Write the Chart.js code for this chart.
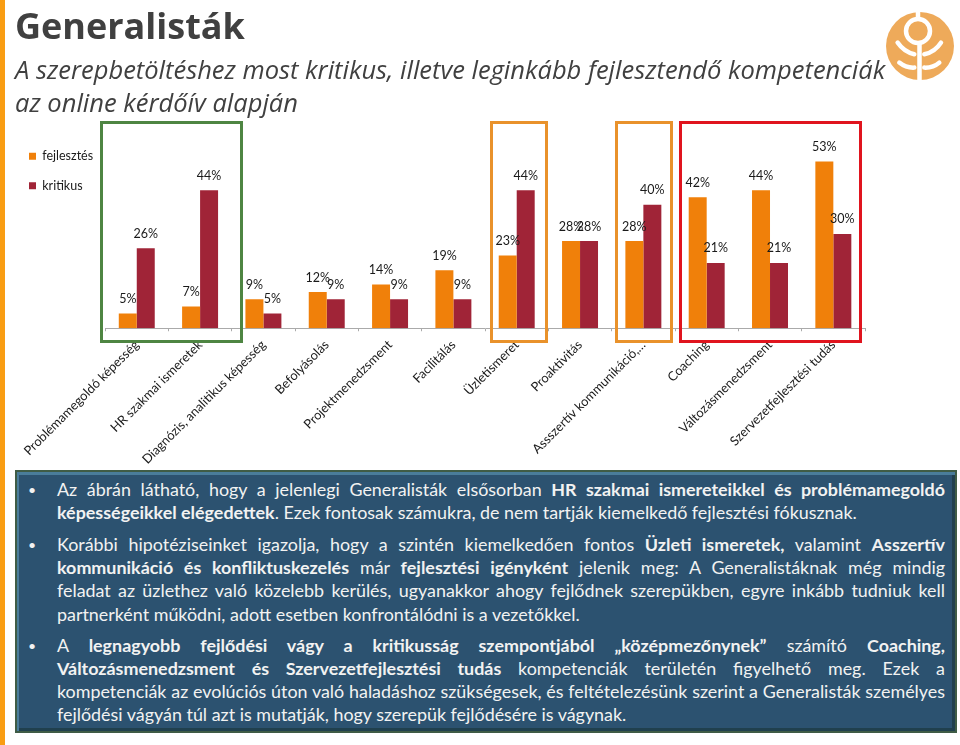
<!DOCTYPE html>
<html lang="hu">
<head>
<meta charset="utf-8">
<title>Generalisták</title>
<script src="https://cdn.jsdelivr.net/npm/chart.js@4/dist/chart.umd.js"></script>
<style>
  html, body { margin: 0; padding: 0; background: #fff; }
  #page { position: relative; width: 960px; height: 745px; overflow: hidden; }
  #page > * { position: absolute; }
  #band { left: 0; top: 0; width: 5px; height: 745px; background: #f99d13; }
  #chart { left: 0; top: 0; }
  h1 { left: 15px; top: 1px; margin: 0; font: 700 36px/50px "Open Sans", sans-serif; color: #404040; }
  h2 { left: 15px; top: 53px; margin: 0; font: italic 400 25.5px/33px "Open Sans", sans-serif; color: #404040; white-space: nowrap; }
  .box { box-sizing: border-box; border-style: solid; border-width: 3px; }
  #logo { left: 886px; top: 12px; }
  #panel {
    left: 15px; top: 470px; width: 942px; height: 263px; box-sizing: border-box;
    background: #2c5270;
    border: 2px solid #3f5c46;
    box-shadow: inset 2px 3px 0 #4a7d9b, inset -3px -3px 0 #20404e;
    color: #f2f2f2; font: 400 17.9px/23.2px Lato, sans-serif;
  }
  #panel p { position: absolute; left: 40px; width: 888px; margin: 0; }
  #panel p::before { content: "•"; position: absolute; left: -29px; font-size: 14px; }
  #panel span { display: block; text-align: justify; text-align-last: justify; white-space: nowrap; }
  #panel span.end { text-align-last: left; }
</style>
</head>
<body>
<div id="page">
  <canvas id="chart" width="960" height="745"></canvas>
  <div id="band"></div>
  <h1>Generalisták</h1>
  <h2>A szerepbetöltéshez most kritikus, illetve leginkább fejlesztendő kompetenciák<br>az online kérdőív alapján</h2>
  <svg id="logo" width="68" height="68" viewBox="0 0 68 68">
    <circle cx="34" cy="34" r="34" fill="#eeaa5a"/>
    <circle cx="32" cy="19" r="12" fill="none" stroke="#fff" stroke-width="4.5"/>
    <path d="M32 0 V6 M33.5 31 V68" stroke="#fff" stroke-width="4.5"/>
    <path d="M11.6 30.6 Q18 40 28.3 42.3 M55 30.6 Q49 40 38.3 42.3 M13.3 50.6 Q20 56 28.3 55.6 M53.3 50.6 Q47 56 38.3 55.6" fill="none" stroke="#fff" stroke-width="4.5" stroke-linecap="round"/>
  </svg>
  <div id="panel">
    <p style="top:6px"><span>Az ábrán látható, hogy a jelenlegi Generalisták elsősorban <b>HR szakmai ismereteikkel és problémamegoldó</b></span><span class="end"><b>képességeikkel elégedettek</b>. Ezek fontosak számukra, de nem tartják kiemelkedő fejlesztési fókusznak.</span></p>
    <p style="top:61px"><span>Korábbi hipotéziseinket igazolja, hogy a szintén kiemelkedően fontos <b>Üzleti ismeretek,</b> valamint <b>Asszertív</b></span><span><b>kommunikáció és konfliktuskezelés</b> már <b>fejlesztési igényként</b> jelenik meg: A Generalistáknak még mindig</span><span>feladat az üzlethez való közelebb kerülés, ugyanakkor ahogy fejlődnek szerepükben, egyre inkább tudniuk kell</span><span class="end">partnerként működni, adott esetben konfrontálódni is a vezetőkkel.</span></p>
    <p style="top:161.5px"><span>A <b>legnagyobb fejlődési vágy a kritikusság szempontjából „középmezőnynek”</b> számító <b>Coaching,</b></span><span><b>Változásmenedzsment és Szervezetfejlesztési tudás</b> kompetenciák területén figyelhető meg. Ezek a</span><span>kompetenciák az evolúciós úton való haladáshoz szükségesek, és feltételezésünk szerint a Generalisták személyes</span><span class="end">fejlődési vágyán túl azt is mutatják, hogy szerepük fejlődésére is vágynak.</span></p>
  </div>
  <div class="box" style="left:100px;top:121px;width:143px;height:222px;border-color:#4e8542"></div>
  <div class="box" style="left:490px;top:121px;width:58px;height:222px;border-color:#e9922b"></div>
  <div class="box" style="left:615px;top:121px;width:58px;height:222px;border-color:#e9922b"></div>
  <div class="box" style="left:679px;top:121px;width:183px;height:222px;border-color:#e0141e"></div>
</div>
<script>
const categories = ['Problémamegoldó képesség', 'HR szakmai ismeretek', 'Diagnózis, analitikus képesség', 'Befolyásolás', 'Projektmenedzsment', 'Facilitálás', 'Üzletismeret', 'Proaktivitás', 'Assszertív kommunikáció,…', 'Coaching', 'Változásmenedzsment', 'Szervezetfejlesztési tudás'];
// bar heights, the labels show them rounded
const fejlesztes = [4.7, 7, 9.3, 11.6, 14, 18.6, 23.3, 27.9, 27.9, 41.9, 44.2, 53.4];
const kritikus = [25.6, 44.2, 4.7, 9.3, 9.3, 9.3, 44.2, 27.9, 39.5, 20.9, 20.9, 30.2];
const seriesNames = ['fejlesztés', 'kritikus'];
const seriesColors = ['#f0800a', '#a02437'];

// value labels above the bars
const barLabels = {
    id: 'barLabels',
    afterDatasetsDraw(chart) {
        const ctx = chart.ctx;
        ctx.save();
        ctx.font = '12.5px Lato, sans-serif';
        ctx.fillStyle = '#1a1a1a';
        ctx.textAlign = 'center';
        ctx.textBaseline = 'middle';
        chart.data.datasets.forEach((ds, i) => {
            chart.getDatasetMeta(i).data.forEach((bar, j) => {
                ctx.fillText(Math.round(ds.data[j]) + '%', bar.x, bar.y - 14.5);
            });
        });
        ctx.restore();
    }
};

new Chart(document.getElementById('chart').getContext('2d'), {
    type: 'bar',
    data: {
        labels: categories,
        datasets: [
            { label: seriesNames[0], data: fejlesztes, backgroundColor: seriesColors[0] },
            { label: seriesNames[1], data: kritikus, backgroundColor: seriesColors[1] }
        ]
    },
    plugins: [barLabels],
    options: {
        responsive: false,
        animation: false,
        layout: { padding: { left: 12, top: 133, right: 95, bottom: 272 } },
        datasets: { bar: { categoryPercentage: 0.568, barPercentage: 1 } },
        plugins: {
            legend: {
                position: 'left',
                align: 'start',
                labels: { boxWidth: 7, boxHeight: 7, padding: 17, color: '#1a1a1a', font: { family: 'Lato', size: 12.5 } }
            },
            tooltip: { enabled: false }
        },
        scales: {
            x: {
                grid: { drawOnChartArea: false, color: '#aaa', tickLength: 3 },
                border: { color: '#aaa' },
                ticks: { autoSkip: false, minRotation: 45, maxRotation: 45, padding: 6, color: '#1a1a1a', font: { family: 'Lato', size: 12.8 } }
            },
            // hidden value axis, only keeps the plot off the legend
            y: {
                min: 0, max: 62.5,
                grid: { display: false },
                border: { display: false },
                ticks: { display: false },
                afterFit: (scale) => { scale.width = 2; }
            }
        }
    }
});
</script>
</body>
</html>
